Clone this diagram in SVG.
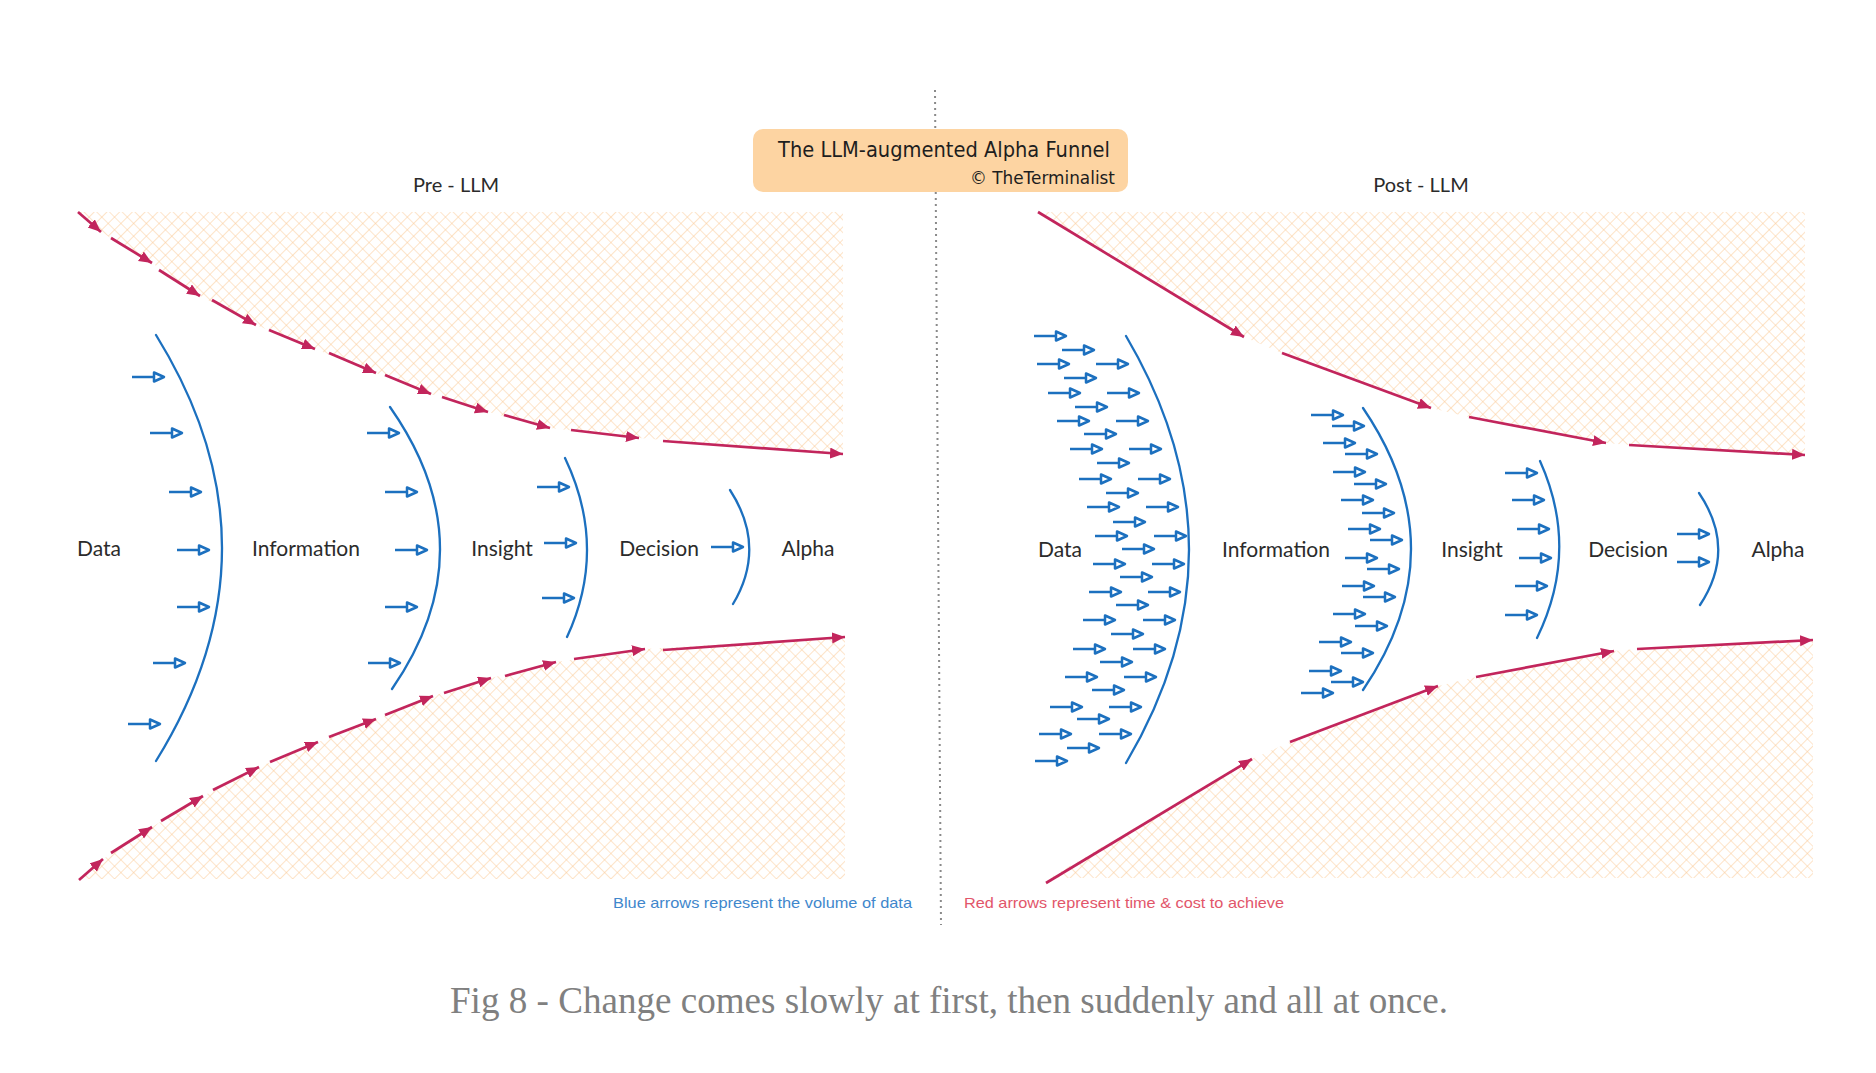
<svg xmlns="http://www.w3.org/2000/svg" xmlns:xlink="http://www.w3.org/1999/xlink" width="1876" height="1073" viewBox="0 0 1876 1073">
<style>
.lbl{font-family:Lato,"Open Sans","Liberation Sans",sans-serif;font-size:21px;fill:#2b2b2b;text-anchor:middle}
.hd{font-family:Lato,"Open Sans","Liberation Sans",sans-serif;font-size:20px;fill:#2b2b2b;text-anchor:middle}
.curve{fill:none;stroke:#1c70bf;stroke-width:2.3;stroke-linecap:round}
.red{fill:none;stroke:#c2255c;stroke-width:2.7;marker-end:url(#rh)}
.ba{stroke:#1c70bf;stroke-width:2.5;fill:#fff;stroke-linejoin:round}
.hatch{fill:url(#xh);stroke:none}
.ttl{font-family:"DejaVu Sans","Liberation Sans",sans-serif;fill:#1e1e1e}
</style>
<defs>
<pattern id="xh" patternUnits="userSpaceOnUse" width="9" height="9" patternTransform="rotate(45)">
<path d="M0,0 H9 M0,0 V9" stroke="#fbc68e" stroke-width="1.1" fill="none" opacity="0.9"/>
</pattern>
<marker id="rh" markerUnits="userSpaceOnUse" markerWidth="14" markerHeight="12" refX="13" refY="5.5" orient="auto">
<path d="M0,0 L13,5.5 L0,11 Z" fill="#c2255c"/>
</marker>
<g id="ba"><line x1="0" y1="0" x2="22" y2="0"/><path d="M22,-4.5 L32,0 L22,4.5 Z"/></g>
</defs>
<rect width="1876" height="1073" fill="#fff"/>

<g id="hatch">
<polygon class="hatch" points="78,212 843,212 843,454 639,438 550,428 488,412 431,394 376,373 315,349 256,325 200,296 152,263 101,232"/>
<polygon class="hatch" points="79,880 103,859 152,827 203,796 259,767 318,742 376,719 433,696 491,678 556,662 645,649 845,637 845,879 79,879"/>
<polygon class="hatch" points="1038,212 1805,212 1805,455 1629,445 1606,443 1469,417 1431,408 1282,353 1244,337"/>
<polygon class="hatch" points="1046,880 1252,759 1290,742 1438,686 1476,677 1614,651 1637,649 1813,640 1813,878 1046,878"/>
</g>

<g id="divider">
<line x1="935" y1="90" x2="941" y2="925" stroke="#8a8a8a" stroke-width="2" stroke-dasharray="2 4"/>
</g>

<g id="title">
<rect x="753" y="129" width="375" height="63" rx="10" fill="#fdd4a2"/>
<text class="ttl" x="778" y="157" font-size="22" textLength="332" lengthAdjust="spacingAndGlyphs">The LLM-augmented Alpha Funnel</text>
<text class="ttl" x="970" y="184" font-size="17" textLength="145" lengthAdjust="spacingAndGlyphs">© TheTerminalist</text>
</g>

<g id="node-pre-llm"><text class="hd" x="456" y="192">Pre - LLM</text></g>
<g id="node-post-llm"><text class="hd" x="1421" y="192">Post - LLM</text></g>

<g id="connectors">
<path class="red" d="M78,212 L101,232"/>
<path class="red" d="M111,238 L152,263"/>
<path class="red" d="M159,270 L200,296"/>
<path class="red" d="M212,300 L256,325"/>
<path class="red" d="M269,330 L315,349"/>
<path class="red" d="M329,353 L376,373"/>
<path class="red" d="M385,375 L431,394"/>
<path class="red" d="M442,397 L488,412"/>
<path class="red" d="M504,415 L550,428"/>
<path class="red" d="M571,430 L639,438"/>
<path class="red" d="M663,441 L843,454"/>
<path class="red" d="M79,880 L103,859"/>
<path class="red" d="M111,853 L152,827"/>
<path class="red" d="M161,821 L203,796"/>
<path class="red" d="M213,790 L259,767"/>
<path class="red" d="M270,762 L318,742"/>
<path class="red" d="M329,737 L376,719"/>
<path class="red" d="M385,715 L433,696"/>
<path class="red" d="M444,693 L491,678"/>
<path class="red" d="M505,676 L556,662"/>
<path class="red" d="M574,659 L645,649"/>
<path class="red" d="M663,650 L845,637"/>
<path class="red" d="M1038,212 L1244,337"/>
<path class="red" d="M1282,353 L1431,408"/>
<path class="red" d="M1469,417 L1606,443"/>
<path class="red" d="M1629,445 L1805,455"/>
<path class="red" d="M1046,883 L1252,759"/>
<path class="red" d="M1290,742 L1438,686"/>
<path class="red" d="M1476,677 L1614,651"/>
<path class="red" d="M1637,649 L1813,640"/>
</g>

<g id="node-pre-data">
<text class="lbl" x="99" y="556">Data</text>
<path class="curve" d="M156,335 Q288,548 156,761"/>
<g class="ba">
<use href="#ba" x="132" y="377"/><use href="#ba" x="150" y="433"/><use href="#ba" x="169" y="492"/><use href="#ba" x="177" y="550"/><use href="#ba" x="177" y="607"/><use href="#ba" x="153" y="663"/><use href="#ba" x="128" y="724"/>
</g>
</g>
<g id="node-pre-information">
<text class="lbl" x="306" y="556">Information</text>
<path class="curve" d="M390,407 Q489,548 392,689"/>
<g class="ba">
<use href="#ba" x="367" y="433"/><use href="#ba" x="385" y="492"/><use href="#ba" x="395" y="550"/><use href="#ba" x="385" y="607"/><use href="#ba" x="368" y="663"/>
</g>
</g>
<g id="node-pre-insight">
<text class="lbl" x="502" y="556">Insight</text>
<path class="curve" d="M565,458 Q608,548 567,637"/>
<g class="ba">
<use href="#ba" x="537" y="487"/><use href="#ba" x="544" y="543"/><use href="#ba" x="542" y="598"/>
</g>
</g>
<g id="node-pre-decision">
<text class="lbl" x="659" y="556">Decision</text>
<path class="curve" d="M730,490 Q767,547 733,604"/>
<g class="ba"><use href="#ba" x="711" y="547"/></g>
</g>
<g id="node-pre-alpha"><text class="lbl" x="808" y="556">Alpha</text></g>

<g id="node-post-data">
<text class="lbl" x="1060" y="557">Data</text>
<path class="curve" d="M1126,336 Q1252,550 1126,763"/>
<g class="ba">
<use href="#ba" x="1034" y="336"/>
<use href="#ba" x="1062" y="350"/>
<use href="#ba" x="1037" y="364"/><use href="#ba" x="1096" y="364"/>
<use href="#ba" x="1064" y="378"/>
<use href="#ba" x="1048" y="393"/><use href="#ba" x="1107" y="393"/>
<use href="#ba" x="1075" y="407"/>
<use href="#ba" x="1057" y="421"/><use href="#ba" x="1116" y="421"/>
<use href="#ba" x="1084" y="434"/>
<use href="#ba" x="1070" y="449"/><use href="#ba" x="1129" y="449"/>
<use href="#ba" x="1097" y="463"/>
<use href="#ba" x="1079" y="479"/><use href="#ba" x="1138" y="479"/>
<use href="#ba" x="1106" y="493"/>
<use href="#ba" x="1087" y="507"/><use href="#ba" x="1146" y="507"/>
<use href="#ba" x="1113" y="522"/>
<use href="#ba" x="1095" y="536"/><use href="#ba" x="1154" y="536"/>
<use href="#ba" x="1122" y="549"/>
<use href="#ba" x="1093" y="564"/><use href="#ba" x="1152" y="564"/>
<use href="#ba" x="1120" y="577"/>
<use href="#ba" x="1089" y="592"/><use href="#ba" x="1148" y="592"/>
<use href="#ba" x="1116" y="605"/>
<use href="#ba" x="1083" y="620"/><use href="#ba" x="1143" y="620"/>
<use href="#ba" x="1111" y="634"/>
<use href="#ba" x="1073" y="649"/><use href="#ba" x="1133" y="649"/>
<use href="#ba" x="1100" y="662"/>
<use href="#ba" x="1065" y="677"/><use href="#ba" x="1124" y="677"/>
<use href="#ba" x="1092" y="690"/>
<use href="#ba" x="1050" y="707"/><use href="#ba" x="1109" y="707"/>
<use href="#ba" x="1077" y="719"/>
<use href="#ba" x="1039" y="734"/><use href="#ba" x="1099" y="734"/>
<use href="#ba" x="1067" y="748"/>
<use href="#ba" x="1035" y="761"/>
</g>
</g>
<g id="node-post-information">
<text class="lbl" x="1276" y="557">Information</text>
<path class="curve" d="M1363,408 Q1459,549 1363,690"/>
<g class="ba">
<use href="#ba" x="1311" y="415"/><use href="#ba" x="1332" y="426"/>
<use href="#ba" x="1323" y="443"/><use href="#ba" x="1345" y="454"/>
<use href="#ba" x="1333" y="472"/><use href="#ba" x="1354" y="484"/>
<use href="#ba" x="1341" y="500"/><use href="#ba" x="1362" y="513"/>
<use href="#ba" x="1348" y="529"/><use href="#ba" x="1370" y="540"/>
<use href="#ba" x="1345" y="558"/><use href="#ba" x="1367" y="569"/>
<use href="#ba" x="1342" y="586"/><use href="#ba" x="1363" y="597"/>
<use href="#ba" x="1333" y="614"/><use href="#ba" x="1355" y="626"/>
<use href="#ba" x="1319" y="642"/><use href="#ba" x="1341" y="653"/>
<use href="#ba" x="1309" y="671"/><use href="#ba" x="1331" y="682"/>
<use href="#ba" x="1301" y="693"/>
</g>
</g>
<g id="node-post-insight">
<text class="lbl" x="1472" y="557">Insight</text>
<path class="curve" d="M1540,461 Q1580,550 1537,638"/>
<g class="ba">
<use href="#ba" x="1505" y="473"/><use href="#ba" x="1512" y="500"/><use href="#ba" x="1517" y="529"/><use href="#ba" x="1519" y="558"/><use href="#ba" x="1515" y="586"/><use href="#ba" x="1505" y="615"/>
</g>
</g>
<g id="node-post-decision">
<text class="lbl" x="1628" y="557">Decision</text>
<path class="curve" d="M1699,493 Q1737,549 1700,605"/>
<g class="ba"><use href="#ba" x="1677" y="534"/><use href="#ba" x="1677" y="562"/></g>
</g>
<g id="node-post-alpha"><text class="lbl" x="1778" y="557">Alpha</text></g>

<g id="legend">
<text x="613" y="908" font-family="'Liberation Sans',Arial,sans-serif" font-size="15" fill="#3f87cc" textLength="299" lengthAdjust="spacingAndGlyphs">Blue arrows represent the volume of data</text>
<text x="964" y="908" font-family="'Liberation Sans',Arial,sans-serif" font-size="15" fill="#e2566a" textLength="320" lengthAdjust="spacingAndGlyphs">Red arrows represent time &amp; cost to achieve</text>
</g>

<g id="caption">
<text x="450" y="1013" font-family="'Liberation Serif','Times New Roman',serif" font-size="37" fill="#808080" textLength="998" lengthAdjust="spacingAndGlyphs">Fig 8 - Change comes slowly at first, then suddenly and all at once.</text>
</g>
</svg>
